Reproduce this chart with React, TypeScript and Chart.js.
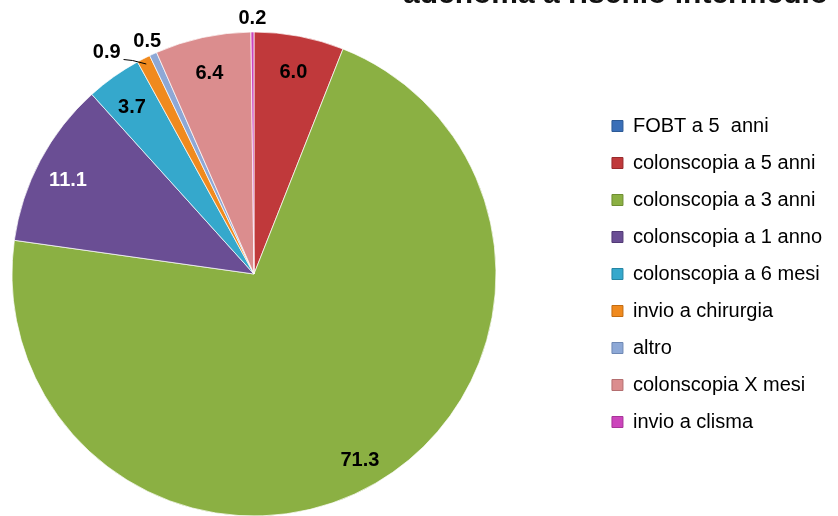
import React, { useEffect, useRef } from "react";
import { Chart, registerables } from "chart.js";

Chart.register(...registerables);

const titleText = "adenoma a rischio intermedio";

const categories = [
  "FOBT a 5  anni",
  "colonscopia a 5 anni",
  "colonscopia a 3 anni",
  "colonscopia a 1 anno",
  "colonscopia a 6 mesi",
  "invio a chirurgia",
  "altro",
  "colonscopia X mesi",
  "invio a clisma",
];

const values = [0.0, 6.0, 71.3, 11.1, 3.7, 0.9, 0.5, 6.4, 0.2];

const sliceColors = [
  "#3A6FB8",
  "#C0393B",
  "#8BB043",
  "#6A4E94",
  "#35A8CC",
  "#F08A1E",
  "#8DA8D6",
  "#DB8D8E",
  "#CC45BC",
];

const legendBorders = [
  "#2C5A96",
  "#982A2C",
  "#6E8E32",
  "#523A76",
  "#2585A3",
  "#C26C12",
  "#6E88B4",
  "#B46E70",
  "#A83499",
];

const labelColors = ["#000", "#000", "#000", "#fff", "#000", "#000", "#000", "#000", "#000"];

const FONT = '"Liberation Sans", Arial, Helvetica, sans-serif';
const SHIFT = 87; // canvas is shifted left by this many pixels

const titlePlugin = {
  id: "cutTitle",
  afterDraw(chart: any) {
    const ctx = chart.ctx;
    ctx.save();
    ctx.font = `bold 30px ${FONT}`;
    ctx.fillStyle = "#111";
    ctx.textAlign = "left";
    ctx.textBaseline = "alphabetic";
    ctx.fillText(titleText, 403 + SHIFT, 3);
    ctx.restore();
  },
};

const sliceLabelPlugin = {
  id: "sliceLabels",
  afterDatasetsDraw(chart: any) {
    const ctx = chart.ctx;
    const meta = chart.getDatasetMeta(0);
    const data = chart.data.datasets[0].data as number[];
    ctx.save();
    ctx.font = `bold 20px ${FONT}`;
    ctx.textAlign = "center";
    ctx.textBaseline = "middle";
    const placed: { x: number; y: number; w: number }[] = [];
    const order = meta.data.map((_: any, i: number) => i).reverse();
    for (const i of order) {
      const v = data[i];
      if (!v) continue;
      const arc = meta.data[i];
      const { x, y, startAngle, endAngle, outerRadius } = arc.getProps(
        ["x", "y", "startAngle", "endAngle", "outerRadius"],
        true
      );
      const mid = (startAngle + endAngle) / 2;
      const text = v.toFixed(1);
      const w = ctx.measureText(text).width;
      if (v >= 1) {
        const r = outerRadius * 0.87;
        ctx.fillStyle = labelColors[i];
        ctx.fillText(text, x + r * Math.cos(mid), y + 5 + r * Math.sin(mid));
      } else {
        let a = mid;
        let r = outerRadius + 14;
        let lx = x + r * Math.cos(a);
        let ly = y + r * Math.sin(a);
        const overlaps = (px: number, py: number) =>
          placed.some((p) => Math.abs(p.x - px) < (p.w + w) / 2 + 2 && Math.abs(p.y - py) < 18);
        let leader = false;
        if (overlaps(lx, ly)) {
          a = mid - 0.113;
          r = outerRadius + 24;
          lx = x + r * Math.cos(a);
          ly = y + r * Math.sin(a);
          leader = true;
        }
        placed.push({ x: lx, y: ly, w });
        ctx.fillStyle = "#000";
        ctx.fillText(text, lx, ly);
        if (leader) {
          const sx = lx + w / 2 + 3;
          const sy = ly + 7;
          const ex = x + (outerRadius - 6) * Math.cos(mid);
          const ey = y + (outerRadius - 6) * Math.sin(mid);
          ctx.beginPath();
          ctx.strokeStyle = "#000";
          ctx.lineWidth = 1;
          ctx.moveTo(sx, sy);
          ctx.lineTo(sx + 9, sy + 1);
          ctx.lineTo(ex, ey);
          ctx.stroke();
        }
      }
    }
    ctx.restore();
  },
};

export default function App() {
  const ref = useRef<HTMLCanvasElement | null>(null);

  useEffect(() => {
    if (!ref.current) return;
    const chart = new Chart(ref.current, {
      type: "pie",
      data: {
        labels: categories,
        datasets: [
          {
            data: values,
            backgroundColor: sliceColors,
            borderColor: "rgba(255,255,255,0.7)",
            borderWidth: 1,
          },
        ],
      },
      options: {
        responsive: false,
        animation: false,
        radius: 242,
        layout: { padding: { left: 0, right: 6, top: 30, bottom: 42 } },
        plugins: {
          title: { display: false },
          tooltip: { enabled: false },
          legend: {
            display: true,
            position: "right",
            align: "center",
            labels: {
              boxWidth: 11,
              boxHeight: 11,
              padding: 17,
              color: "#000",
              font: { family: FONT, size: 20 },
              generateLabels: () =>
                categories.map((text, i) => ({
                  text,
                  fillStyle: sliceColors[i],
                  strokeStyle: legendBorders[i],
                  lineWidth: 1,
                  hidden: false,
                  index: i,
                  fontColor: "#000",
                })),
            },
          },
        },
      },
      plugins: [sliceLabelPlugin, titlePlugin],
    } as any);
    return () => chart.destroy();
  }, []);

  return (
    <div
      style={{
        position: "fixed",
        left: 0,
        top: 0,
        width: 838,
        height: 516,
        overflow: "hidden",
        background: "#fff",
      }}
    >
      <canvas
        ref={ref}
        width={838 + SHIFT}
        height={560}
        style={{ display: "block", position: "absolute", left: -SHIFT, top: 0 }}
      />
    </div>
  );
}
